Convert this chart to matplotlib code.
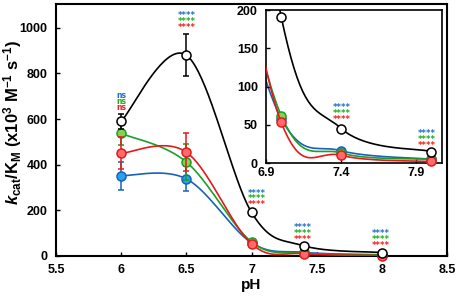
import matplotlib
matplotlib.use('Agg')
import matplotlib.pyplot as plt
import numpy as np

plt.rcParams['font.family'] = ['Liberation Sans', 'DejaVu Sans']
plt.rcParams['font.weight'] = 'bold'
plt.rcParams['mathtext.fontset'] = 'custom'
plt.rcParams['mathtext.rm'] = 'Liberation Sans:bold'
plt.rcParams['mathtext.bf'] = 'Liberation Sans:bold'
plt.rcParams['mathtext.it'] = 'Liberation Sans:italic:bold'

ph = [6.0, 6.5, 7.0, 7.4, 8.0]

black_vals = [590, 880, 191, 45, 15]
black_err = [33, 93, 0, 0, 0]
blue_vals = [352, 338, 58, 16, 5]
blue_err = [62, 55, 0, 0, 0]
green_vals = [537, 412, 62, 13, 5]
green_err = [52, 79, 0, 0, 0]
red_vals = [450, 455, 53, 10, 2]
red_err = [70, 84, 0, 0, 0]

# significance marks: (x, text, y of the top/blue row)
main_marks = [(6.0, 'ns', 702), (6.5, '****', 1053), (7.04, '****', 276),
              (7.39, '****', 125), (7.99, '****', 100)]
inset_marks = [(7.4, 73), (7.97, 39)]

series = [
    ('blue', blue_vals, blue_err, '#1a62b5', '#26a2ee', 1),
    ('green', green_vals, green_err, '#18a02a', '#8ccf4d', 2),
    ('red', red_vals, red_err, '#e6191b', '#ff6b6b', 3),
    ('black', black_vals, black_err, '#000000', '#ffffff', 4),
]
mark_colors = ['#1f6fc6', '#1faa1f', '#ee2020']


def smooth(x, y, n=40):
    """Excel-style smoothed line through the points (bezier, 1/6 tangents)"""
    x = np.asarray(x, float)
    y = np.asarray(y, float)
    xs, ys = [], []
    m = len(x)
    for i in range(m - 1):
        p0 = np.array([x[i], y[i]])
        p3 = np.array([x[i + 1], y[i + 1]])
        pm = np.array([x[i - 1], y[i - 1]]) if i > 0 else p0
        pp = np.array([x[i + 2], y[i + 2]]) if i + 2 < m else p3
        c1 = p0 + (p3 - pm) / 6.0
        c2 = p3 - (pp - p0) / 6.0
        t = np.linspace(0, 1, n)[:, None]
        pts = ((1 - t) ** 3) * p0 + 3 * (1 - t) ** 2 * t * c1 \
            + 3 * (1 - t) * t ** 2 * c2 + t ** 3 * p3
        xs.extend(pts[:, 0])
        ys.extend(pts[:, 1])
    return np.array(xs), np.array(ys)


def draw(ax, ms, with_err):
    for name, vals, err, line_c, fill_c, z in series:
        sx, sy = smooth(ph, vals)
        ax.plot(sx, sy, color=line_c, lw=1.2, zorder=z)
        if with_err:
            ax.errorbar(ph, vals, yerr=err, fmt='none', ecolor=line_c,
                        elinewidth=1.1, capsize=2.5, capthick=1.1, zorder=z)
        ax.plot(ph, vals, 'o', ms=ms, mfc=fill_c, mec=line_c, mew=1.1,
                zorder=z + 0.5, clip_on=False)


fig = plt.figure(figsize=(4.59, 2.98), dpi=100)
ax = fig.add_axes([0.122, 0.141, 0.852, 0.846])
draw(ax, 6.5, True)
ax.set_xlim(5.5, 8.5)
ax.set_ylim(0, 1105)
ax.set_xticks([5.5, 6, 6.5, 7, 7.5, 8, 8.5])
ax.set_xticklabels(['5.5', '6', '6.5', '7', '7.5', '8', '8.5'])
ax.set_yticks([0, 200, 400, 600, 800, 1000])
ax.tick_params(direction='in', labelsize=9, length=3, width=1, pad=6)
for s in ax.spines.values():
    s.set_linewidth(1.5)
ax.set_xlabel('pH', fontsize=11, fontweight='bold', labelpad=1)
ax.set_ylabel(r'$\mathit{k}_{\mathrm{cat}}\mathrm{/K}_{\mathrm{M}}$ (x10$^{\mathrm{3}}$ M$^{\mathrm{-1}}$ s$^{\mathrm{-1}}$)',
              fontsize=12, fontweight='bold')
ax.yaxis.set_label_coords(-0.11, 0.53)
ax.yaxis.label.set_va('center')

for x, txt, y in main_marks:
    for k, c in enumerate(mark_colors):
        ax.text(x, y - 26 * k, txt, color=c, fontsize=5.5 if txt == 'ns' else 6,
                ha='center', va='center', fontweight='bold',
                family='DejaVu Sans', zorder=6)

ins = fig.add_axes([0.580, 0.453, 0.383, 0.513])
draw(ins, 6.5, False)
ins.set_xlim(6.9, 8.07)
ins.set_ylim(0, 200)
ins.set_xticks([6.9, 7.4, 7.9])
ins.set_yticks([0, 50, 100, 150, 200])
ins.tick_params(direction='in', labelsize=9, length=3, width=1)
ins.tick_params(axis='x', pad=3)
ins.tick_params(axis='y', pad=6)
for s in ins.spines.values():
    s.set_linewidth(1.2)
for x, y in inset_marks:
    for k, c in enumerate(mark_colors):
        ins.text(x, y - 8 * k, '****', color=c, fontsize=6, ha='center',
                 va='center', fontweight='bold', family='DejaVu Sans', zorder=6)

fig.savefig('out.png', dpi=100)
